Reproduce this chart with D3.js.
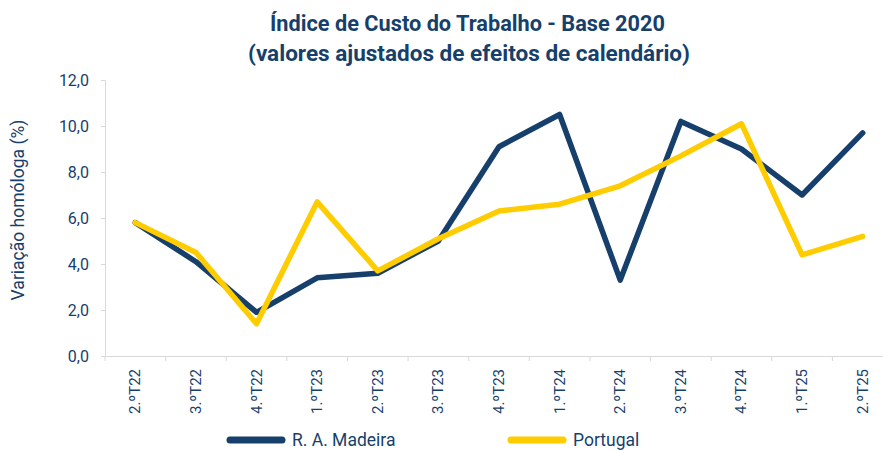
<!DOCTYPE html>
<html>
<head>
<meta charset="utf-8">
<script src="https://cdn.jsdelivr.net/npm/d3@7"></script>
<style>
  body { margin: 0; background: #fff; }
  svg { display: block; font-family: Roboto, sans-serif; }
</style>
</head>
<body>
<svg id="chart" width="883" height="451"></svg>
<script>
// dados
const trimestres = ["2.ºT22", "3.ºT22", "4.ºT22", "1.ºT23", "2.ºT23", "3.ºT23", "4.ºT23",
  "1.ºT24", "2.ºT24", "3.ºT24", "4.ºT24", "1.ºT25", "2.ºT25"];
const madeira = [5.8, 4.1, 1.9, 3.4, 3.6, 5.0, 9.1, 10.5, 3.3, 10.2, 9.0, 7.0, 9.7];
const portugal = [5.8, 4.5, 1.4, 6.7, 3.7, 5.1, 6.3, 6.6, 7.4, 8.7, 10.1, 4.4, 5.2];
const yTicks = [0, 2, 4, 6, 8, 10, 12];

const navy = "#173f6b";
const gold = "#ffcc00";

const svg = d3.select("#chart");

const x = d3.scaleBand()
  .domain(trimestres)
  .range([105, 893]);

const y = d3.scaleLinear()
  .domain([0, 12])
  .range([356, 80]);

// título (fonte condensada no original)
const title = svg.append("g")
  .attr("fill", navy)
  .style("font-weight", "700")
  .style("font-size", "22px");
title.append("text")
  .attr("x", 270).attr("y", 31)
  .attr("textLength", 395)
  .attr("lengthAdjust", "spacingAndGlyphs")
  .text("Índice de Custo do Trabalho - Base 2020");
title.append("text")
  .attr("x", 248).attr("y", 61)
  .attr("textLength", 442)
  .attr("lengthAdjust", "spacingAndGlyphs")
  .text("(valores ajustados de efeitos de calendário)");

// eixo y
const yAxis = d3.axisLeft(y)
  .tickValues(yTicks)
  .tickSize(4)
  .tickPadding(12)
  .tickFormat(d => d3.format(".1f")(d).replace(".", ","));

const gy = svg.append("g")
  .attr("transform", "translate(105,0)")
  .call(yAxis);
gy.select(".domain").attr("stroke", "#d9d9d9");
gy.selectAll(".tick line").attr("stroke", "#d9d9d9");
gy.selectAll(".tick text")
  .attr("fill", navy)
  .style("font-size", "16px")
  .style("font-family", "Roboto, sans-serif");

svg.append("text")
  .attr("transform", "translate(24,210) rotate(-90)")
  .attr("text-anchor", "middle")
  .attr("fill", navy)
  .style("font-size", "17.5px")
  .text("Variação homóloga (%)");

// eixo x
const xAxis = d3.axisBottom(x)
  .tickSize(0)
  .tickPadding(0);

const gx = svg.append("g")
  .attr("transform", "translate(0,356)")
  .call(xAxis);
gx.select(".domain").attr("stroke", "#d9d9d9");
gx.selectAll(".tick text")
  .attr("fill", navy)
  .style("font-size", "15px")
  .style("font-family", "Roboto, sans-serif")
  .attr("text-anchor", "end")
  .attr("dy", null)
  .attr("transform", "translate(5,13) rotate(-90)");

// marcas entre categorias
svg.append("g")
  .selectAll("line")
  .data(trimestres)
  .enter()
  .append("line")
  .attr("x1", d => x(d))
  .attr("x2", d => x(d))
  .attr("y1", 356)
  .attr("y2", 361)
  .attr("stroke", "#d9d9d9");

// linhas
const line = d3.line()
  .x((d, i) => x(trimestres[i]) + x.bandwidth() / 2)
  .y(d => y(d));

const series = [
  { name: "R. A. Madeira", values: madeira, color: navy },
  { name: "Portugal", values: portugal, color: gold }
];

svg.append("g")
  .selectAll("path")
  .data(series)
  .enter()
  .append("path")
  .attr("d", d => line(d.values))
  .attr("fill", "none")
  .attr("stroke", d => d.color)
  .attr("stroke-width", 5.5)
  .attr("stroke-linejoin", "round")
  .attr("stroke-linecap", "round");

// legenda
const legendX = [230, 511];
const legend = svg.append("g")
  .selectAll("g")
  .data(series)
  .enter()
  .append("g")
  .attr("transform", (d, i) => "translate(" + legendX[i] + ",440)");
legend.append("line")
  .attr("x1", 0)
  .attr("x2", 52)
  .attr("stroke", d => d.color)
  .attr("stroke-width", 7)
  .attr("stroke-linecap", "round");
legend.append("text")
  .attr("x", 62)
  .attr("y", 6)
  .attr("fill", navy)
  .style("font-size", "17.5px")
  .text(d => d.name);
</script>
</body>
</html>
